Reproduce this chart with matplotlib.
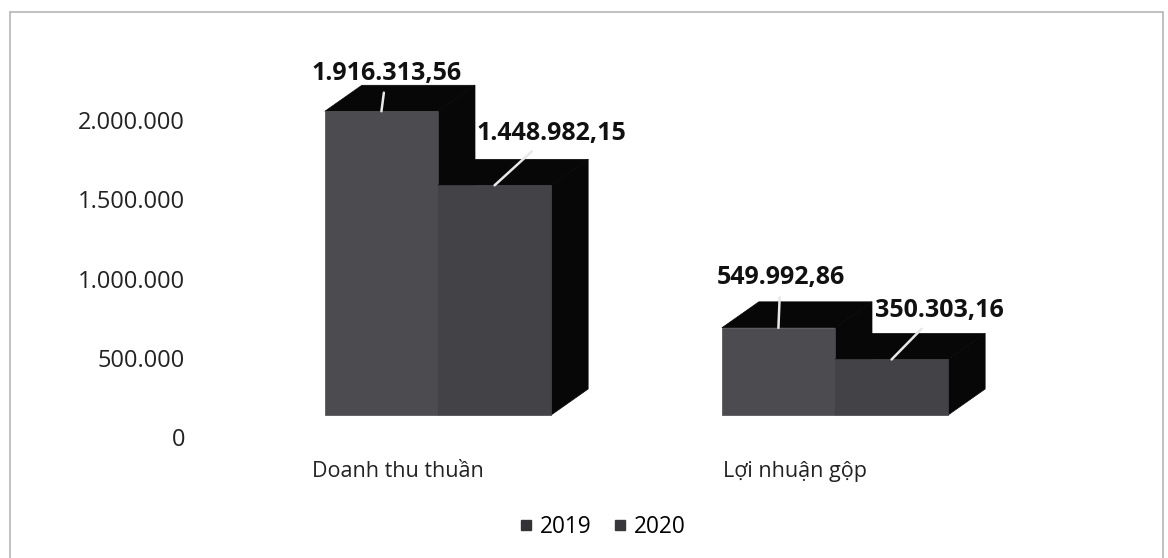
import matplotlib
matplotlib.use("Agg")
import matplotlib.pyplot as plt
from matplotlib.patches import Polygon, Rectangle
from matplotlib.lines import Line2D
from matplotlib.ticker import FuncFormatter

categories = ["Doanh thu thuần", "Lợi nhuận gộp"]
series_names = ["2019", "2020"]
values_2019 = [1916313.56, 549992.86]
values_2020 = [1448982.15, 350303.16]
label_2019 = ["1.916.313,56", "549.992,86"]
label_2020 = ["1.448.982,15", "350.303,16"]
yticks = [0, 500000, 1000000, 1500000, 2000000]

plt.rcParams['font.family'] = ['Open Sans', 'DejaVu Sans']

W, H = 1168, 558
fig = plt.figure(figsize=(W / 100, H / 100), dpi=100)
fig.patch.set_facecolor("white")

# axes placed in pixel layout
L, R, T, B = 210, 1150, 40, 437
ax = fig.add_axes([L / W, (H - B) / H, (R - L) / W, (B - T) / H])
px_per_unit_y = 158.5 / 1e6
cat_px = 397
ax.set_xlim((L - 438) / cat_px, (R - 438) / cat_px)
ax.set_ylim(0, (B - T) / px_per_unit_y)

bar_w = 0.285
dx = 37 / cat_px
dy = 26 / px_per_unit_y
base = 22 / px_per_unit_y

front_colors = ["#4b4b50", "#434347"]
dark = "#070707"

def draw_bar(x0, val, fc):
    x1 = x0 + bar_w
    top = base + val
    side = Polygon([(x1, base), (x1 + dx, base + dy), (x1 + dx, top + dy), (x1, top)],
                   closed=True, facecolor=dark, edgecolor=dark, lw=0.5)
    topf = Polygon([(x0, top), (x1, top), (x1 + dx, top + dy), (x0 + dx, top + dy)],
                   closed=True, facecolor=dark, edgecolor=dark, lw=0.5)
    ax.add_patch(side)
    ax.add_patch(topf)
    ax.bar(x0, val, width=bar_w, bottom=base, align="edge", color=fc,
           edgecolor=fc, lw=0.5)

for i in range(len(categories)):
    draw_bar(i - bar_w, values_2019[i], front_colors[0])
    draw_bar(i, values_2020[i], front_colors[1])

# data labels with leader lines
offs_2019 = [(5, 38), (2, 50)]
offs_2020 = [(57, 52), (48, 49)]
for i in range(len(categories)):
    for j, (vals, labs, offs) in enumerate([(values_2019, label_2019, offs_2019),
                                             (values_2020, label_2020, offs_2020)]):
        xc = i - bar_w / 2 if j == 0 else i + bar_w / 2
        ax.annotate(labs[i], xy=(xc, base + vals[i]), xytext=offs[i],
                    textcoords="offset pixels", ha="center", va="center",
                    fontsize=18, fontweight="bold", color="#111111",
                    arrowprops=dict(arrowstyle="-", color="#e8e8e8", lw=1.8,
                                    shrinkA=3, shrinkB=0))

ax.set_yticks(yticks)
ax.yaxis.set_major_formatter(FuncFormatter(lambda v, p: f"{int(v):,}".replace(",", ".")))
ax.set_xticks([i - 0.10 for i in range(len(categories))])
ax.set_xticklabels(categories)
ax.tick_params(axis="y", length=0, pad=18, labelsize=17, labelcolor="#222222")
ax.tick_params(axis="x", length=0, pad=17, labelsize=15.5, labelcolor="#222222")
for s in ax.spines.values():
    s.set_visible(False)

handles = [Line2D([], [], marker="s", linestyle="none", markersize=7.2,
                  markerfacecolor=c, markeredgecolor=c) for c in ["#333336", "#38383c"]]
fig.legend(handles, series_names, loc="center", bbox_to_anchor=(602 / W, 1 - 527 / H),
           ncol=2, frameon=False, fontsize=16.3, handletextpad=0.25,
           columnspacing=0.9, handlelength=0.7)

fig.add_artist(Rectangle((10 / W, -0.01), 1153 / W, 1.01 - 12 / H, transform=fig.transFigure,
                         fill=False, edgecolor="#b5b5b5", lw=1.2))

fig.savefig("out.png", dpi=100)
